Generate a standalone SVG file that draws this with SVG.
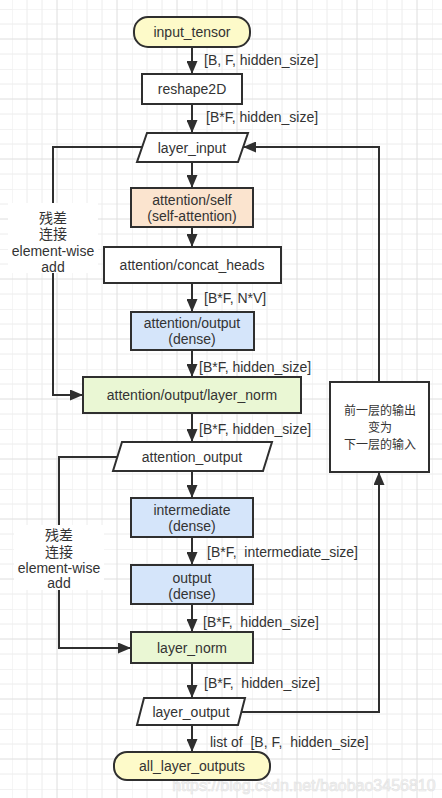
<svg xmlns="http://www.w3.org/2000/svg" width="442" height="798" viewBox="0 0 442 798">
<style>
.n{stroke:#2f2f2f;stroke-width:2}
.t{font-family:"Liberation Sans","Noto Sans CJK SC",Arial,sans-serif;font-size:14px;fill:#333;text-anchor:middle}
.l{font-family:"Liberation Sans","Noto Sans CJK SC",Arial,sans-serif;font-size:14px;fill:#333}
.c{font-family:"Noto Sans CJK SC","Liberation Sans",sans-serif;font-size:12px;fill:#333;text-anchor:middle}
.e{fill:none;stroke:#2f2f2f;stroke-width:2}
</style>
<defs>
<pattern id="grid" patternUnits="userSpaceOnUse" x="12" y="9" width="60" height="60">
<path d="M0,0V60M15,0V60M30,0V60M0,0H60M0,15H60M45,0H60M0,45H60" fill="none" stroke="#ececec" stroke-width="1"/>
<path d="M45,0V60M0,30H60" fill="none" stroke="#dedede" stroke-width="1"/>
</pattern>
<marker id="ah" markerUnits="userSpaceOnUse" markerWidth="13" markerHeight="11" refX="13" refY="5.5" orient="auto">
<path d="M0,0L13,5.5L0,11z" fill="#2f2f2f"/>
</marker>
</defs>
<rect width="442" height="798" fill="#fff"/>
<rect width="442" height="798" fill="url(#grid)"/>
<text x="304" y="791" font-family="Liberation Sans,sans-serif" font-size="16" fill="#f4f4f4" stroke="#e2e2e2" stroke-width="0.6" text-anchor="middle">https://blog.csdn.net/baobao3456810</text>

<g id="connectors">
<path class="e" d="M192,47V74" marker-end="url(#ah)"/>
<path class="e" d="M192,104V133" marker-end="url(#ah)"/>
<path class="e" d="M192,162V188" marker-end="url(#ah)"/>
<path class="e" d="M192,227V247" marker-end="url(#ah)"/>
<path class="e" d="M192,283V312" marker-end="url(#ah)"/>
<path class="e" d="M192,350V377" marker-end="url(#ah)"/>
<path class="e" d="M192,413V442" marker-end="url(#ah)"/>
<path class="e" d="M192,471V498" marker-end="url(#ah)"/>
<path class="e" d="M192,537V565" marker-end="url(#ah)"/>
<path class="e" d="M192,604V632" marker-end="url(#ah)"/>
<path class="e" d="M192,663V698" marker-end="url(#ah)"/>
<path class="e" d="M192,725V752" marker-end="url(#ah)"/>
<path class="e" d="M142,147H53V395H83" marker-end="url(#ah)"/>
<path class="e" d="M117,457H59V648H131" marker-end="url(#ah)"/>
<path class="e" d="M241,712H379V472" marker-end="url(#ah)"/>
<path class="e" d="M379,382V147H243" marker-end="url(#ah)"/>
<text class="l" x="204" y="65">[B, F, hidden_size]</text>
<text class="l" x="206" y="122">[B*F, hidden_size]</text>
<text class="l" x="204" y="303">[B*F, N*V]</text>
<text class="l" x="199" y="372">[B*F, hidden_size]</text>
<text class="l" x="199" y="434">[B*F, hidden_size]</text>
<text class="l" x="207" y="557" xml:space="preserve">[B*F,  intermediate_size]</text>
<text class="l" x="203" y="627" xml:space="preserve">[B*F,  hidden_size]</text>
<text class="l" x="204" y="688" xml:space="preserve">[B*F,  hidden_size]</text>
<text class="l" x="210" y="747" xml:space="preserve">list of  [B, F,  hidden_size]</text>
<rect x="8" y="203" width="90" height="70" fill="#fff"/>
<text class="t" x="53" y="223">残差</text>
<text class="t" x="53" y="239">连接</text>
<text class="t" x="53" y="256">element-wise</text>
<text class="t" x="53" y="272">add</text>
<rect x="14" y="525" width="90" height="65" fill="#fff"/>
<text class="t" x="59" y="540">残差</text>
<text class="t" x="59" y="557">连接</text>
<text class="t" x="59" y="573">element-wise</text>
<text class="t" x="59" y="588">add</text>
</g>

<g id="input_tensor">
<rect class="n" x="134" y="17" width="116" height="30" rx="14" fill="#fdfac9"/>
<text class="t" x="192" y="37">input_tensor</text>
</g>
<g id="reshape2D">
<rect class="n" x="142" y="74" width="100" height="30" fill="#fff"/>
<text class="t" x="192" y="94">reshape2D</text>
</g>
<g id="layer_input">
<polygon class="n" points="147,133 248,133 238,162 137,162" fill="#fff"/>
<text class="t" x="192" y="153">layer_input</text>
</g>
<g id="attention_self">
<rect class="n" x="131" y="188" width="122" height="39" fill="#fbe4cf"/>
<text class="t" x="192" y="205">attention/self</text>
<text class="t" x="192" y="221">(self-attention)</text>
</g>
<g id="attention_concat_heads">
<rect class="n" x="104" y="247" width="177" height="36" fill="#fff"/>
<text class="t" x="192" y="270">attention/concat_heads</text>
</g>
<g id="attention_output_dense">
<rect class="n" x="131" y="312" width="123" height="38" fill="#d5e5fa"/>
<text class="t" x="192" y="328">attention/output</text>
<text class="t" x="192" y="344">(dense)</text>
</g>
<g id="attention_output_layer_norm">
<rect class="n" x="83" y="377" width="218" height="36" fill="#eaf7d4"/>
<text class="t" x="192" y="400">attention/output/layer_norm</text>
</g>
<g id="attention_output">
<polygon class="n" points="122,442 272,442 263,471 113,471" fill="#fff"/>
<text class="t" x="192" y="462">attention_output</text>
</g>
<g id="intermediate">
<rect class="n" x="131" y="498" width="122" height="39" fill="#d5e5fa"/>
<text class="t" x="192" y="515">intermediate</text>
<text class="t" x="192" y="531">(dense)</text>
</g>
<g id="output">
<rect class="n" x="131" y="565" width="122" height="39" fill="#d5e5fa"/>
<text class="t" x="192" y="583">output</text>
<text class="t" x="192" y="599">(dense)</text>
</g>
<g id="layer_norm">
<rect class="n" x="131" y="632" width="122" height="31" fill="#eaf7d4"/>
<text class="t" x="192" y="653">layer_norm</text>
</g>
<g id="layer_output">
<polygon class="n" points="144,698 245,698 238,725 137,725" fill="#fff"/>
<text class="t" x="191" y="717">layer_output</text>
</g>
<g id="all_layer_outputs">
<rect class="n" x="114" y="752" width="156" height="28" rx="13" fill="#fdfac9"/>
<text class="t" x="192" y="771">all_layer_outputs</text>
</g>
<g id="next_layer_note">
<rect class="n" x="330" y="382" width="99" height="90" fill="#fff"/>
<text class="c" x="380" y="415">前一层的输出</text>
<text class="c" x="380" y="432">变为</text>
<text class="c" x="380" y="449">下一层的输入</text>
</g>
</svg>
